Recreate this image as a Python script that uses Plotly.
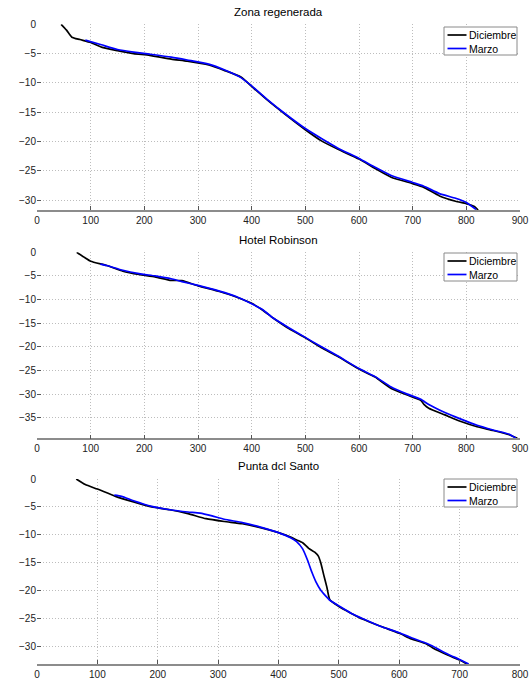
import plotly.graph_objects as go

# ---- Perfiles de playa: distancia (m) vs cota (m) ----
titles = ["Zona regenerada", "Hotel Robinson", "Punta dcl Santo"]
series_names = ["Diciembre", "Marzo"]

# Zona regenerada
zr_dic_x = [45, 55, 65, 80, 100, 120, 150, 180, 210, 250, 280, 320, 350, 380, 400, 430, 460, 500, 530,
            560, 600, 630, 660, 700, 720, 750, 780, 800, 815, 822]
zr_dic_y = [0, -1.0, -2.2, -2.6, -3.1, -3.9, -4.5, -5.0, -5.3, -5.95, -6.3, -6.95, -7.9, -9.0, -10.6,
            -13.0, -15.2, -18.0, -19.9, -21.3, -23.0, -24.6, -26.1, -27.2, -27.8, -29.3, -30.2, -30.6,
            -31.1, -31.7]
zr_mar_x = [90, 120, 150, 180, 210, 250, 280, 320, 350, 380, 400, 430, 460, 500, 530, 560, 600, 630,
            660, 700, 720, 750, 780, 800, 818]
zr_mar_y = [-2.7, -3.5, -4.3, -4.75, -5.1, -5.6, -6.1, -6.8, -7.8, -9.1, -10.5, -12.9, -15.1, -17.8,
            -19.5, -21.1, -22.9, -24.4, -25.8, -27.0, -27.6, -28.9, -29.7, -30.4, -31.6]

# Hotel Robinson
hr_dic_x = [74, 90, 100, 130, 160, 190, 220, 250, 270, 300, 340, 370, 400, 420, 440, 470, 500, 530,
            560, 600, 630, 660, 690, 715, 722, 730, 760, 790, 820, 850, 880, 895]
hr_dic_y = [0, -1.2, -1.9, -2.8, -4.0, -4.7, -5.2, -5.95, -6.0, -7.1, -8.3, -9.4, -10.8, -12.2, -13.9,
            -16.2, -18.1, -20.2, -22.0, -24.7, -26.4, -28.8, -30.2, -31.3, -32.3, -33.0, -34.4, -35.8,
            -36.9, -37.7, -38.6, -39.35]
hr_mar_x = [118, 130, 160, 190, 220, 250, 270, 300, 340, 370, 400, 420, 440, 470, 500, 530, 560, 600,
            630, 660, 690, 715, 730, 760, 790, 820, 850, 880, 892]
hr_mar_y = [-2.5, -2.8, -3.8, -4.5, -5.0, -5.6, -6.2, -7.0, -8.2, -9.3, -10.9, -12.1, -13.9, -16.0,
            -18.0, -20.0, -21.9, -24.6, -26.3, -28.5, -30.0, -31.1, -32.2, -33.9, -35.3, -36.6, -37.6,
            -38.5, -39.3]

# Punta del Santo
ps_dic_x = [65, 80, 100, 130, 160, 190, 220, 250, 280, 310, 340, 370, 400, 420, 430, 440, 450, 460,
            466, 470, 475, 480, 485, 500, 520, 540, 570, 600, 620, 645, 655, 680, 700, 712]
ps_dic_y = [0, -1.0, -1.8, -3.1, -4.1, -5.0, -5.5, -6.2, -7.1, -7.6, -8.0, -8.7, -9.6, -10.4, -10.9,
            -11.4, -12.4, -13.1, -13.8, -15.0, -17.2, -19.3, -21.6, -22.8, -24.0, -25.1, -26.4, -27.6,
            -28.6, -29.5, -30.2, -31.5, -32.4, -33.1]
ps_mar_x = [128, 140, 160, 190, 220, 250, 270, 290, 310, 340, 370, 400, 420, 430, 440, 448, 455, 462,
            470, 478, 485, 500, 520, 540, 570, 600, 620, 645, 655, 680, 700, 715]
ps_mar_y = [-2.9, -3.1, -3.9, -4.9, -5.5, -5.9, -6.1, -6.6, -7.2, -7.8, -8.6, -9.6, -10.5, -11.2,
            -12.5, -14.5, -16.6, -18.4, -19.9, -20.9, -21.7, -22.7, -24.0, -25.0, -26.4, -27.5, -28.4,
            -29.4, -29.9, -31.3, -32.3, -33.1]

panels = [
    (zr_dic_x, zr_dic_y, zr_mar_x, zr_mar_y, 900, 30),
    (hr_dic_x, hr_dic_y, hr_mar_x, hr_mar_y, 900, 35),
    (ps_dic_x, ps_dic_y, ps_mar_x, ps_mar_y, 800, 30),
]
colors = ["#000000", "#0000ff"]

W, H = 532, 681
x_left, x_right = 37, 520
# plot-area top/bottom in pixels for each panel
rows_px = [(24.3, 210.0), (252.3, 438.3), (479.0, 664.0)]
title_px = [12, 240, 466]
legend_top_px = [27, 253, 479]
legend_box = (444, 517, 28)      # left, right, height (px)

font_family = "Liberation Sans, Arial, sans-serif"
fig = go.Figure()


def px_x(p):
    return p / W


def px_y(p):
    return 1 - p / H


for i, (dx, dy, mx, my, xmax, ymin_tick) in enumerate(panels):
    n = i + 1
    xa = "x" if n == 1 else f"x{n}"
    ya = "y" if n == 1 else f"y{n}"
    for (xs, ys), name, col in zip([(dx, dy), (mx, my)], series_names, colors):
        fig.add_trace(go.Scatter(
            x=xs, y=ys, mode="lines", name=name, showlegend=False,
            line=dict(color=col, width=1.7, shape="spline", smoothing=0.5),
            xaxis=xa, yaxis=ya,
        ))
    top, bot = rows_px[i]
    ymin = min(min(dy), min(my))
    axis_common = dict(
        showgrid=True, gridcolor="#bdbdbd", griddash="1px,2px", gridwidth=1,
        zeroline=False, ticks="inside", ticklen=4, tickcolor="#555",
        tickfont=dict(family=font_family, size=10, color="#222"),
        automargin=False,
    )
    suffix = "" if n == 1 else str(n)
    fig.layout[f"xaxis{suffix}"] = dict(
        axis_common, domain=[px_x(x_left), px_x(x_right)], range=[0, xmax],
        tickmode="array", tickvals=list(range(0, xmax + 1, 100)),
        showline=True, linecolor="#8c8c8c", linewidth=1.5,
        anchor=ya,
    )
    fig.layout[f"yaxis{suffix}"] = dict(
        axis_common, domain=[px_y(bot), px_y(top)], range=[ymin, 0],
        tickmode="array", tickvals=list(range(0, -ymin_tick - 1, -5)),
        showline=False, anchor=xa,
    )
    fig.add_annotation(
        text=titles[i], x=px_x((x_left + x_right) / 2), y=px_y(title_px[i]),
        xref="paper", yref="paper", showarrow=False, xanchor="center", yanchor="middle",
        font=dict(family=font_family, size=11.5, color="#000"),
    )

    # per-panel legend box
    lx0, lx1, lh = legend_box
    ty = legend_top_px[i]
    fig.add_shape(type="rect", xref="paper", yref="paper",
                  x0=px_x(lx0), x1=px_x(lx1), y0=px_y(ty + lh), y1=px_y(ty),
                  line=dict(color="#8a8a8a", width=1), fillcolor="white", layer="above")
    for k, (name, col) in enumerate(zip(series_names, colors)):
        ey = ty + 8 + k * 13.5
        fig.add_shape(type="line", xref="paper", yref="paper",
                      x0=px_x(lx0 + 3.5), x1=px_x(lx0 + 22.5), y0=px_y(ey), y1=px_y(ey),
                      line=dict(color=col, width=1.7), layer="above")
        fig.add_annotation(
            text=name, x=px_x(lx0 + 23), y=px_y(ey), xref="paper", yref="paper",
            showarrow=False, xanchor="left", yanchor="middle",
            font=dict(family=font_family, size=10.5, color="#000"),
        )

fig.update_layout(
    width=W, height=H, margin=dict(l=0, r=0, t=0, b=0),
    paper_bgcolor="white", plot_bgcolor="white", template="none",
)

fig.write_html("out.html")
